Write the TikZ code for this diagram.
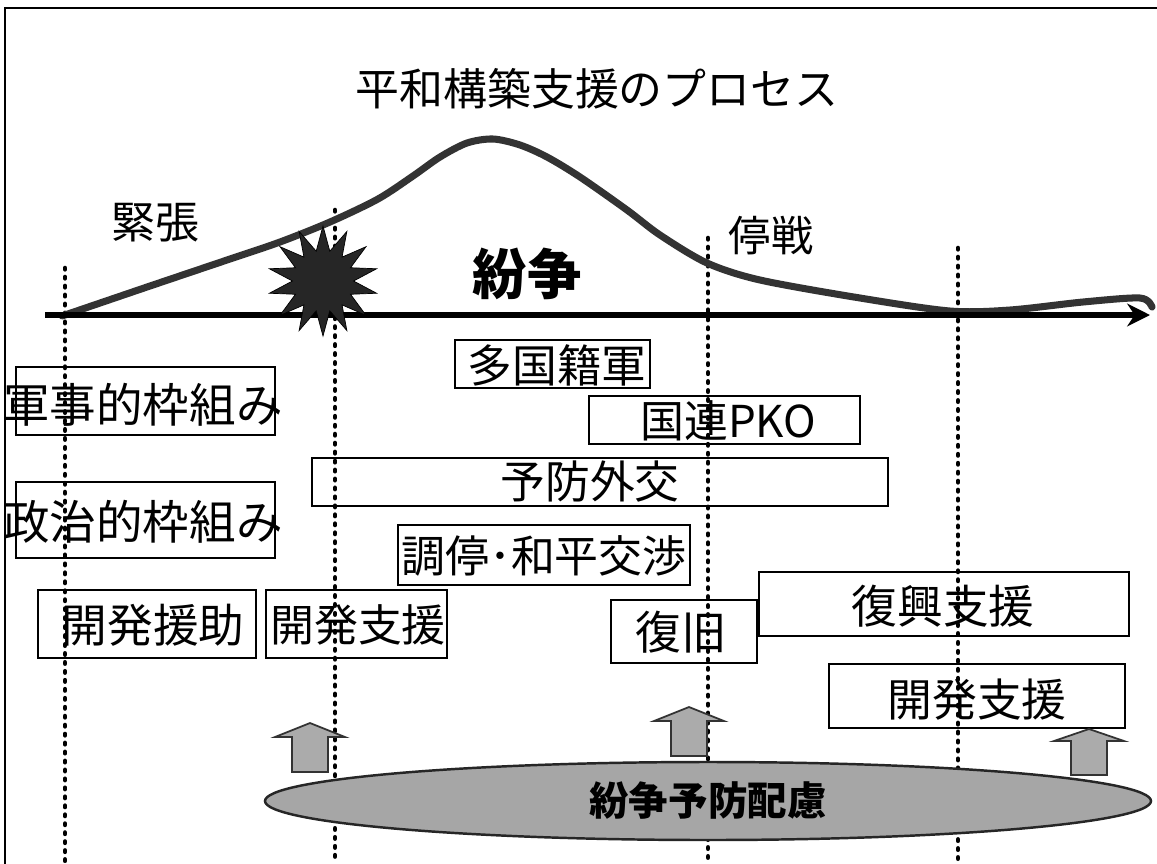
\documentclass[tikz,border=0pt]{standalone}
\usepackage{fontspec}
\newfontfamily\jp{Noto Sans CJK JP}
\usetikzlibrary{shapes.geometric,arrows.meta,calc}
\newdimen\px \px=0.02cm
\newcommand\jfs[1]{\jp\fontsize{#1pt}{#1pt}\selectfont}
\tikzset{
  bx/.style 2 args={draw=black, line width=1.1pt, rectangle, inner sep=0pt,
     minimum width=#1\px, minimum height=#2\px},
  txt/.style={inner sep=0pt, font=\jfs{#1}},
  dotline/.style={line width=2.6pt, dash pattern=on 0.8pt off 4.3pt, line cap=round, black},
  uparrow/.style={fill=black!33, draw=black!80, line width=1pt}
}
\newcommand\blockup[5]{% name, center x, top, head base, bottom
  \coordinate (#1) at (#2,#5);
  \draw[uparrow] ($(#1)+(-18,0)$) -- ($(#1)+(-18,#4-#5)$) -- ($(#1)+(-35,#4-#5)$)
    -- ($(#1)+(0,#3-#5)$) -- ($(#1)+(35,#4-#5)$) -- ($(#1)+(18,#4-#5)$) -- ($(#1)+(18,0)$) -- cycle;
}
\begin{document}
\begin{tikzpicture}[x=0.02cm,y=-0.02cm]
\useasboundingbox (0,0) rectangle (1157,863);
\fill[white] (0,0) rectangle (1157,863);
% frame
\draw[line width=1.2pt] (5,866) -- (5,8) -- (1160,8);
% title
\node[txt=25] (title) at (597,89) {平和構築支援のプロセス};
% dotted lines
\coordinate (d1t) at (65,268);  \coordinate (d1b) at (65,863);
\coordinate (d2t) at (335,210); \coordinate (d2b) at (335,863);
\coordinate (d3t) at (708,238); \coordinate (d3b) at (708,863);
\coordinate (d4t) at (958,248); \coordinate (d4b) at (958,863);
\draw[dotline] (d1t) -- (d1b);
\draw[dotline] (d2t) -- (d2b);
\draw[dotline] (d3t) -- (d3b);
\draw[dotline] (d4t) -- (d4b);
% curve
\draw[line width=4pt, black!80, line cap=round, line join=round]
  plot[smooth, tension=0.5] coordinates {(62,316) (150,286) (230,259) (280,242) (330,222)
   (378,199) (413,176) (440,157) (467,143) (493,139) (520,145) (547,157) (580,177)
   (627,210) (660,235) (707,263) (760,280) (860,298) (950,311) (1010,310) (1083,302)
   (1140,298) (1152,307)};
% axis
\coordinate (axs) at (45,315);
\coordinate (axe) at (1150,315);
\draw[line width=3.4pt, -{Stealth[length=13pt,width=13pt]}] (axs) -- (axe);
% burst
\node[star, star points=14, star point ratio=1.8, minimum size=110\px, inner sep=0pt,
      fill=black!85, draw=black] (burst) at (323,281) {};
% labels
\node[txt=25] (tension) at (155,223) {緊張};
\node[txt=24] (ceasefire) at (771,236) {停戦};
\node[txt=31, font=\jfs{31}\bfseries] (conflict) at (527,274) {紛争};
% boxes
\node[bx={259}{68}] (mil) at (145.5,401) {};
\node[txt=26.5] at (143,405) {軍事的枠組み};
\node[bx={259}{76}] (pol) at (145.5,520) {};
\node[txt=26.5] at (143,522) {政治的枠組み};
\node[bx={218}{68}] (devaid) at (147,624) {};
\node[txt=26] at (153,625) {開発援助};
\node[bx={181}{68}] (devsupA) at (356.5,624) {};
\node[txt=25] at (358,625) {開発支援};
\node[bx={195}{48}] (multi) at (552.5,364) {};
\node[txt=25.5] at (557,365) {多国籍軍};
\node[bx={271}{48}] (pko) at (724.5,420) {};
\node[txt=25] at (728,421) {国連PKO};
\node[bx={576}{48}] (prev) at (600,482) {};
\node[txt=25.5] at (590,482) {予防外交};
\node[bx={292}{60}] (med) at (544,555) {};
\node[txt=25] at (544,556) {調停･和平交渉};
\node[bx={146}{63}] (restore) at (684,631.5) {};
\node[txt=26] at (681,632) {復旧};
\node[bx={370}{64}] (recon) at (944,604) {};
\node[txt=26] at (943,606) {復興支援};
\node[bx={296}{64}] (devsupB) at (977,696) {};
\node[txt=25.5] at (977,700) {開発支援};
% up arrows
\blockup{ua}{310}{723}{737}{772}
\blockup{ub}{689}{707}{721}{756}
\blockup{uc}{1089}{729}{741}{775}
% ellipse
\node[ellipse, minimum width=886\px, minimum height=78\px, inner sep=0pt,
      fill=black!35, draw=black!85, line width=1.4pt] (prevent) at (708,801) {};
\node[txt=22.5, font=\jfs{22.5}\bfseries] at (708,800) {紛争予防配慮};
\end{tikzpicture}
\end{document}
